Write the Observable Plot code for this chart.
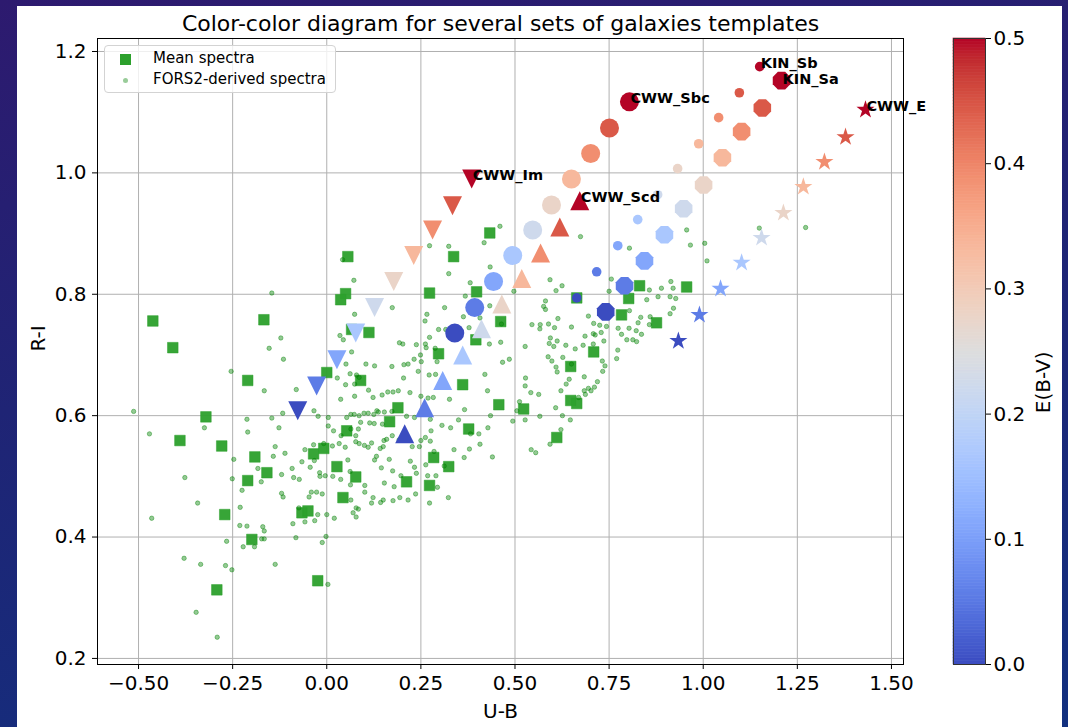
<!DOCTYPE html>
<html><head><meta charset="utf-8">
<script src="https://cdn.jsdelivr.net/npm/d3@7"></script>
<script src="https://cdn.jsdelivr.net/npm/@observablehq/plot@0.6"></script>
<style>
html,body{margin:0;padding:0;width:1068px;height:727px;overflow:hidden;}
body{background:linear-gradient(170deg,#2d1a6f 0%,#1f2475 45%,#12307f 100%);font-family:"DejaVu Sans",sans-serif;position:relative;}
#card{position:absolute;left:17px;top:6px;width:1045px;height:730px;background:#fff;}
#legend{position:absolute;left:104px;top:45px;width:232px;height:48px;box-sizing:border-box;border:1px solid #d3d3d3;border-radius:4px;background:rgba(255,255,255,0.8);font-size:15px;color:#000;}
#legend .sq{position:absolute;left:14.5px;top:7.5px;width:11px;height:11px;background:#2ca02c;}
#legend .dt{position:absolute;left:17.5px;top:31.5px;width:5px;height:5px;border-radius:50%;background:#99cc99;}
#legend .t{position:absolute;left:48px;line-height:18px;white-space:nowrap;}
svg{position:absolute;left:0;top:0;}
</style></head><body>
<div id="card"></div>
<div id="plots"></div>
<div id="legend"><span class="sq"></span><span class="t" style="top:3px">Mean spectra</span><span class="dt"></span><span class="t" style="top:24px">FORS2-derived spectra</span></div>
<script>
// ---- ticks ----
const xTicks = [-0.5,-0.25,0,0.25,0.5,0.75,1,1.25,1.5];
const yTicks = [0.2,0.4,0.6,0.8,1.0,1.2];
const cbTicks = [0,0.1,0.2,0.3,0.4,0.5];
// ---- E(B-V) values of the template sequences ----
const ebv = [0,0.0556,0.1111,0.1667,0.2222,0.2778,0.3333,0.3889,0.4444,0.5];
// ---- template sequences [U-B, R-I] ----
const cwwIm  = [[-0.077,0.608],[-0.027,0.649],[0.027,0.692],[0.077,0.736],[0.127,0.778],[0.178,0.821],[0.231,0.864],[0.281,0.906],[0.334,0.946],[0.385,0.990]];
const cwwScd = [[0.207,0.570],[0.260,0.613],[0.308,0.658],[0.361,0.700],[0.411,0.743],[0.465,0.784],[0.518,0.826],[0.568,0.868],[0.619,0.911],[0.672,0.954]];
const cwwSbc = [[0.340,0.736],[0.393,0.778],[0.443,0.821],[0.494,0.864],[0.547,0.906],[0.597,0.947],[0.650,0.990],[0.701,1.032],[0.751,1.074],[0.804,1.117]];
const kinSb  = [[0.664,0.794],[0.717,0.837],[0.773,0.880],[0.826,0.923],[0.879,0.964],[0.932,1.007],[0.988,1.048],[1.041,1.091],[1.096,1.132],[1.150,1.175]];
const kinSa  = [[0.741,0.771],[0.791,0.814],[0.844,0.855],[0.897,0.898],[0.948,0.941],[1.001,0.980],[1.051,1.025],[1.102,1.068],[1.157,1.107],[1.208,1.152]];
const cwwE   = [[0.934,0.723],[0.990,0.766],[1.046,0.809],[1.102,0.852],[1.155,0.893],[1.213,0.934],[1.266,0.977],[1.322,1.018],[1.378,1.059],[1.431,1.104]];
const templateNames = ["CWW_Im","CWW_Scd","CWW_Sbc","KIN_Sb","KIN_Sa","CWW_E"];
// ---- mean spectra [U-B, R-I] ----
const meanSpectra = [
[-0.462,0.756],[-0.409,0.712],[-0.167,0.758],[-0.210,0.658],[-0.321,0.598],[-0.390,0.559],[-0.279,0.550],
[0.056,0.862],[0.050,0.801],[0.037,0.791],[0.066,0.742],[0.112,0.737],[0.000,0.671],[0.090,0.658],[0.273,0.802],[0.297,0.702],[0.189,0.613],[0.167,0.590],[0.053,0.575],[-0.008,0.546],[-0.035,0.537],
[-0.191,0.532],[-0.159,0.506],[-0.210,0.493],[-0.271,0.437],[-0.199,0.396],[-0.292,0.313],[-0.024,0.328],[-0.066,0.440],[-0.050,0.443],[0.043,0.465],[0.077,0.499],[0.027,0.516],[0.284,0.531],[0.324,0.516],[0.212,0.491],[0.273,0.485],
[0.433,0.901],[0.337,0.862],[0.398,0.804],[0.462,0.755],[0.396,0.725],[0.361,0.651],[0.457,0.618],[0.523,0.611],[0.377,0.578],[0.611,0.564],[0.648,0.681],[0.709,0.705],[0.648,0.625],[0.664,0.620],[0.664,0.794],[0.783,0.766],[0.802,0.793],[0.831,0.814],[0.876,0.753],[0.956,0.812]];
// ---- FORS2-derived spectra [U-B, R-I] ----
const fors2Spectra = [
[-0.146,0.802],[-0.254,0.673],[-0.166,0.641],[-0.153,0.711],[-0.122,0.728],[-0.115,0.693],[-0.081,0.643],
[0.042,0.857],[0.072,0.823],[0.074,0.767],[0.035,0.732],[0.044,0.725],[0.066,0.705],[0.051,0.685],[0.104,0.685],[0.127,0.682],[0.028,0.662],[0.050,0.651],[0.074,0.652],[0.062,0.669],[0.079,0.667],[0.086,0.663],[0.111,0.642],[0.037,0.627],[0.074,0.632],[0.123,0.630],[0.147,0.634],[0.162,0.639],[0.176,0.639],[0.190,0.641],[0.174,0.778],
[0.273,0.880],[0.261,0.756],[0.266,0.767],[0.273,0.729],[0.262,0.718],[0.264,0.712],[0.238,0.717],[0.193,0.720],[0.202,0.718],[0.297,0.742],[0.216,0.685],[0.232,0.693],[0.249,0.700],[0.251,0.689],[0.243,0.673],[0.272,0.667],[0.289,0.668],[0.293,0.689],[0.288,0.711],[0.204,0.662],[0.221,0.638],[0.250,0.632],[0.269,0.629],[0.283,0.630],[0.205,0.684],[0.173,0.681],
[0.133,0.608],[0.099,0.604],[0.110,0.604],[0.125,0.602],[0.137,0.606],[0.153,0.606],[0.173,0.607],[0.114,0.588],[0.148,0.586],[0.126,0.587],[0.086,0.600],[0.073,0.602],[0.090,0.589],[0.064,0.578],[0.084,0.578],[0.077,0.567],[0.038,0.567],[0.018,0.575],[0.004,0.583],[0.004,0.597],[-0.023,0.599],[-0.034,0.608],[0.053,0.597],[0.064,0.602],[0.212,0.599],[0.233,0.597],[0.275,0.594],[0.277,0.575],[0.275,0.558],[0.262,0.564],[0.250,0.559],[0.246,0.549],[0.227,0.549],[0.159,0.561],[0.152,0.559],[0.174,0.567],[0.192,0.560],[0.150,0.549],[0.142,0.546],[0.119,0.555],[0.110,0.548],[0.100,0.551],[0.086,0.554],[0.077,0.557],[0.049,0.548],[0.033,0.554],[0.015,0.550],[-0.008,0.554],[-0.035,0.552],[-0.058,0.544],[-0.117,0.604],[-0.146,0.596],[-0.212,0.594],[-0.210,0.573],[-0.127,0.580],[-0.137,0.549],[-0.325,0.580],[-0.471,0.570],[-0.513,0.607],
[-0.377,0.498],[-0.343,0.456],[-0.465,0.431],[-0.379,0.365],[-0.335,0.355],[-0.347,0.276],[-0.291,0.235],[-0.269,0.353],[-0.252,0.346],[-0.266,0.393],[-0.222,0.384],[-0.192,0.384],[-0.231,0.419],[-0.212,0.418],[-0.170,0.417],[-0.166,0.410],[-0.173,0.397],[-0.166,0.397],[-0.137,0.355],[-0.230,0.449],[-0.225,0.477],[-0.251,0.496],[-0.247,0.528],[-0.183,0.513],[-0.174,0.491],[-0.142,0.533],[-0.111,0.538],[-0.120,0.503],[-0.120,0.472],[-0.116,0.466],[-0.092,0.513],[-0.073,0.495],[-0.088,0.498],[-0.066,0.524],[-0.044,0.515],[-0.033,0.526],[-0.047,0.466],[-0.041,0.474],[-0.027,0.474],[-0.012,0.471],[-0.074,0.448],[-0.090,0.422],[-0.058,0.425],[-0.032,0.427],[-0.024,0.437],[0.000,0.437],[0.020,0.431],[-0.082,0.399],[-0.002,0.401],[-0.012,0.391],[0.003,0.322],[-0.019,0.506],[-0.018,0.500],[-0.004,0.501],[0.016,0.500],[0.037,0.495],[0.056,0.527],[0.062,0.508],[0.063,0.486],[0.064,0.461],[0.078,0.448],[0.084,0.446],[0.078,0.433],[0.070,0.440],[0.101,0.485],[0.101,0.474],[0.123,0.465],[0.143,0.457],[0.150,0.461],[0.176,0.460],[0.194,0.465],[0.216,0.461],[0.236,0.471],[0.153,0.489],[0.179,0.483],[0.197,0.501],[0.175,0.509],[0.145,0.514],[0.166,0.528],[0.132,0.533],[0.127,0.527],[0.119,0.456],[0.233,0.515],[0.238,0.505],[0.263,0.519],[0.268,0.501],[0.290,0.501],[0.294,0.482],[0.323,0.465],[0.273,0.456],[0.285,0.541],[0.312,0.517],[0.222,0.525],
[0.460,0.912],[0.418,0.885],[0.324,0.879],[0.324,0.834],[0.434,0.845],[0.674,0.895],[0.593,0.824],[0.381,0.819],[0.368,0.797],[0.433,0.781],[0.497,0.805],[0.609,0.806],[0.625,0.814],[0.750,0.805],[0.756,0.825],[0.804,0.876],[0.914,0.821],[0.956,0.906],[0.966,0.881],[1.004,0.884],[1.010,0.855],[1.149,0.909],[1.272,0.910],
[0.857,0.807],[0.850,0.791],[0.880,0.796],[0.889,0.810],[0.920,0.810],[0.912,0.796],[0.927,0.793],[0.921,0.777],[0.912,0.768],[0.859,0.763],[0.834,0.762],[0.822,0.740],[0.836,0.734],[0.804,0.773],[0.857,0.750],[0.813,0.725],[0.797,0.725],[0.783,0.734],[0.774,0.744],[0.803,0.744],[0.827,0.753],[0.823,0.722],[0.773,0.708],[0.770,0.694],[0.743,0.747],[0.725,0.749],[0.729,0.737],[0.736,0.723],[0.732,0.690],[0.739,0.682],[0.713,0.733],[0.709,0.752],[0.695,0.764],[0.708,0.735],[0.708,0.718],[0.686,0.731],[0.681,0.716],[0.733,0.673],[0.719,0.656],[0.711,0.647],[0.702,0.641],[0.687,0.635],[0.669,0.630],[0.684,0.664],[0.650,0.685],[0.660,0.710],[0.635,0.716],[0.650,0.746],[0.614,0.760],[0.589,0.751],[0.594,0.728],[0.612,0.723],[0.627,0.696],[0.603,0.714],[0.588,0.697],[0.567,0.750],[0.566,0.743],[0.576,0.780],[0.581,0.775],[0.581,0.789],[0.591,0.719],[0.598,0.690],[0.609,0.680],[0.612,0.672],[0.644,0.660],[0.636,0.652],[0.622,0.641],[0.626,0.600],[0.622,0.577],[0.608,0.613],[0.593,0.553],[0.647,0.593],[0.684,0.641],[0.695,0.645],
[0.313,0.778],[0.316,0.742],[0.363,0.763],[0.378,0.745],[0.407,0.761],[0.464,0.751],[0.432,0.718],[0.462,0.721],[0.467,0.688],[0.485,0.693],[0.527,0.714],[0.545,0.750],[0.605,0.745],[0.528,0.662],[0.527,0.649],[0.542,0.638],[0.563,0.635],[0.566,0.599],[0.512,0.623],[0.494,0.591],[0.505,0.608],[0.527,0.593],[0.435,0.600],[0.428,0.580],[0.420,0.668],[0.427,0.641],[0.366,0.610],[0.350,0.593],[0.329,0.580],[0.326,0.627],[0.306,0.584],[0.338,0.544],[0.382,0.570],[0.404,0.570],[0.407,0.553],[0.379,0.545],[0.365,0.531],[0.440,0.532],[0.543,0.544],[0.555,0.539]];

// ---- coolwarm colour map ----
const coolwarm = ["#3b4cc0","#445acc","#4d68d7","#5775e1","#6282ea","#6c8ef1","#779af7","#82a5fb","#8db0fe","#98b9ff","#a3c2ff","#aec9fd","#b8d0f9","#c2d5f4","#ccd9ee","#d5dbe6","#dddddd","#e5d8d1","#ecd3c5","#f1ccb9","#f5c4ad","#f7bba0","#f7b194","#f7a687","#f49a7b","#f18d6f","#ec7f63","#e57058","#de604d","#d55042","#cb3e38","#c0282f","#b40426"];
const colorScale = {type:"linear", domain: coolwarm.map((_, i) => 0.5 * i / (coolwarm.length - 1)), range: coolwarm, interpolate: "rgb"};

// ---- matplotlib-like marker shapes ----
function sym(f){return {draw(ctx,size){f(ctx,Math.sqrt(size/Math.PI));}};}
const triUp = sym((c,r)=>{c.moveTo(0,-r);c.lineTo(r,r);c.lineTo(-r,r);c.closePath();});
const triDown = sym((c,r)=>{c.moveTo(0,r);c.lineTo(r,-r);c.lineTo(-r,-r);c.closePath();});
const octagon = sym((c,r)=>{for(let k=0;k<8;k++){const a=(22.5+45*k)*Math.PI/180;const x=r*Math.cos(a),y=r*Math.sin(a);k?c.lineTo(x,y):c.moveTo(x,y);}c.closePath();});
const star = sym((c,r)=>{const ri=r*0.381966;for(let k=0;k<10;k++){const a=-Math.PI/2+k*Math.PI/5;const rr=k%2?ri:r;const x=rr*Math.cos(a),y=rr*Math.sin(a);k?c.lineTo(x,y):c.moveTo(x,y);}c.closePath();});
const circ = sym((c,r)=>{c.moveTo(r,0);c.arc(0,0,r,0,2*Math.PI);c.closePath();});
const square = sym((c,r)=>{c.rect(-r,-r,2*r,2*r);});

const sets = [cwwIm,cwwScd,cwwSbc,kinSb,kinSa,cwwE];
const setSymbols = [triDown,triUp,circ,circ,octagon,star];
const setR = [9.5,9.5,9.5,4.8,9.5,9.5];
const rows = sets.map(s => s.map((p,i) => ({ub:p[0], ri:p[1], ebv:ebv[i]})));
const labelRows = sets.map((s,k) => ({ub:s[s.length-1][0], ri:s[s.length-1][1], name:templateNames[k]}));

const baseStyle = {background:"transparent", fontFamily:"DejaVu Sans", fontSize:"20px", color:"#000", overflow:"visible"};
const labelOpts = {x:"ub",y:"ri",text:"name",textAnchor:"start",lineAnchor:"bottom",dx:1,fontWeight:"bold",fontSize:14.5};

const main = Plot.plot({
  width:1068, height:727, marginLeft:97, marginRight:165, marginTop:38, marginBottom:63,
  style: baseStyle,
  x:{domain:[-0.609,1.532]},
  y:{domain:[0.190,1.2214]},
  color: colorScale,
  marks:[
    Plot.gridX(xTicks,{stroke:"#b0b0b0",strokeOpacity:1,strokeWidth:1}),
    Plot.gridY(yTicks,{stroke:"#b0b0b0",strokeOpacity:1,strokeWidth:1}),
    Plot.dot(meanSpectra,{x:d=>d[0],y:d=>d[1],symbol:square,r:5.3,fill:"#2ca02c",fillOpacity:0.95,stroke:"#2ca02c",strokeOpacity:0.5,strokeWidth:1}),
    Plot.dot(fors2Spectra,{x:d=>d[0],y:d=>d[1],r:2.2,fill:"green",fillOpacity:0.42,stroke:"green",strokeOpacity:0.45,strokeWidth:0.9}),
    ...rows.map((rs,k)=>Plot.dot(rs,{x:"ub",y:"ri",fill:"ebv",symbol:setSymbols[k],r:setR[k]})),
    Plot.text(labelRows.filter(d=>d.name!=="KIN_Sa"),{...labelOpts,dy:1}),
    Plot.text(labelRows.filter(d=>d.name==="KIN_Sa"),{...labelOpts,dy:3.5}),
    Plot.frame({stroke:"#000",strokeWidth:1}),
    Plot.axisX(xTicks,{tickSize:5,tickPadding:6,tickFormat:d3.format(".2f"),label:null}),
    Plot.axisY(yTicks,{tickSize:5,tickPadding:6,tickFormat:d3.format(".1f"),label:null}),
    Plot.text(["Color-color diagram for several sets of galaxies templates"],{frameAnchor:"top",lineAnchor:"bottom",dy:-8,fontSize:22}),
    Plot.text(["U-B"],{frameAnchor:"bottom",lineAnchor:"bottom",dy:53,fontSize:20}),
    Plot.text(["R-I"],{frameAnchor:"left",lineAnchor:"bottom",rotate:-90,dx:-53,fontSize:20})
  ]
});

const cbStep = 0.0025;
const cbSteps = d3.range(0, 0.5, cbStep);
const cbar = Plot.plot({
  width:1068, height:727, marginLeft:953, marginRight:83, marginTop:38, marginBottom:63,
  style: baseStyle,
  x:{domain:[0,1], axis:null},
  y:{domain:[0,0.5], axis:null},
  color: colorScale,
  marks:[
    Plot.rect(cbSteps,{x1:0,x2:1,y1:d=>d,y2:d=>d+cbStep,fill:d=>d+cbStep/2,stroke:d=>d+cbStep/2,strokeWidth:0.6}),
    Plot.frame({stroke:"#333",strokeWidth:1}),
    Plot.axisY(cbTicks,{anchor:"right",tickSize:5,tickPadding:3,tickFormat:d3.format(".1f"),label:null}),
    Plot.text(["E(B-V)"],{frameAnchor:"right",lineAnchor:"bottom",rotate:-90,dx:64,fontSize:20})
  ]
});

const holder = document.getElementById("plots");
holder.appendChild(main);
holder.appendChild(cbar);
</script>
</body></html>
